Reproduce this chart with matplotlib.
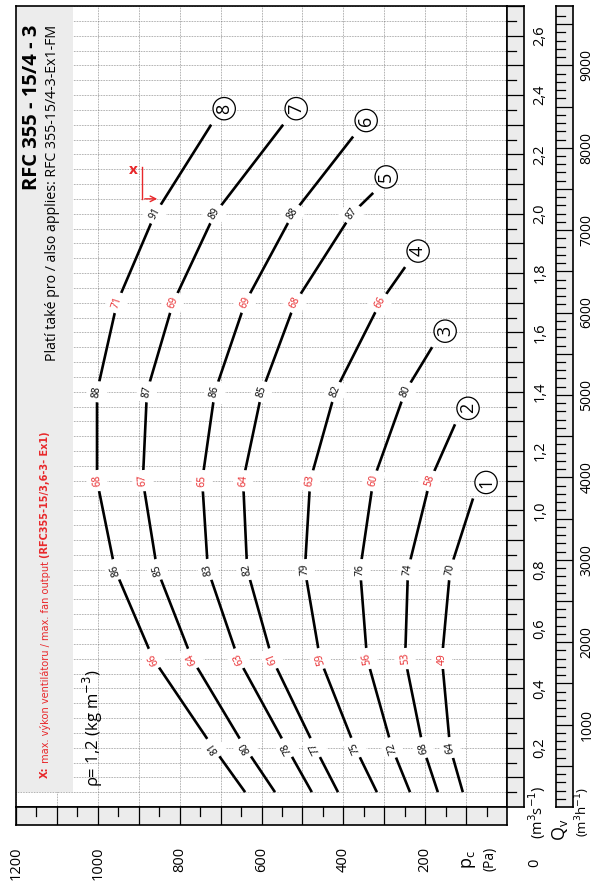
import numpy as np
import matplotlib
matplotlib.use("Agg")
import matplotlib.pyplot as plt
from matplotlib.patches import Rectangle
from matplotlib import transforms, font_manager

plt.rcParams['font.family'] = ['Open Sans', 'DejaVu Sans']

# ---- data (pressure p [Pa] vs flow Q [m3/s]) ----
curve_ids = [1, 2, 3, 4, 5, 6, 7, 8]
curve_q = {
    1: [0.05, 0.2, 0.5, 0.8, 1.04],
    2: [0.05, 0.2, 0.5, 0.8, 1.1, 1.29],
    3: [0.05, 0.2, 0.5, 0.8, 1.1, 1.4, 1.55],
    4: [0.05, 0.2, 0.5, 0.8, 1.1, 1.4, 1.7, 1.82],
    5: [0.05, 0.2, 0.5, 0.8, 1.1, 1.4, 1.7, 2.0, 2.07],
    6: [0.05, 0.2, 0.5, 0.8, 1.1, 1.4, 1.7, 2.0, 2.26],
    7: [0.05, 0.2, 0.5, 0.8, 1.1, 1.4, 1.7, 2.0, 2.30],
    8: [0.05, 0.2, 0.5, 0.8, 1.1, 1.4, 1.7, 2.0, 2.30],
}
curve_p = {
    1: [108, 139, 159, 139, 83],
    2: [169, 205, 249, 242, 188, 127],
    3: [237, 281, 342, 359, 327, 249, 183],
    4: [318, 371, 457, 494, 481, 420, 310, 249],
    5: [413, 469, 574, 635, 645, 599, 518, 379, 327],
    6: [477, 538, 657, 731, 745, 714, 640, 523, 376],
    7: [567, 640, 770, 855, 890, 880, 816, 714, 547],
    8: [640, 718, 865, 958, 1002, 1002, 953, 860, 723],
}
# labels on the inner points of each curve (black = efficiency, red = noise)
curve_labels = {
    1: ['64', '49', '70'],
    2: ['68', '53', '74', '58'],
    3: ['72', '56', '76', '60', '80'],
    4: ['75', '59', '79', '63', '82', '66'],
    5: ['77', '61', '82', '64', '85', '68', '87'],
    6: ['78', '63', '83', '65', '86', '69', '88'],
    7: ['80', '64', '85', '67', '87', '69', '89'],
    8: ['81', '66', '86', '68', '88', '71', '91'],
}
p_ticks = [0, 200, 400, 600, 800, 1000, 1200]
q_ticks = [0.2, 0.4, 0.6, 0.8, 1.0, 1.2, 1.4, 1.6, 1.8, 2.0, 2.2, 2.4, 2.6]
qh_ticks = [1000, 2000, 3000, 4000, 5000, 6000, 7000, 8000, 9000]
x_mark = (914, 2.147)        # "x" max fan output marker
x_corner = (892, 2.05)
x_tip = (848, 2.05)

RED = '#e8282b'
W, H = 593, 890
fig = plt.figure(figsize=(W / 100, H / 100), dpi=100)


def fx(x):
    return x / W


def fy(y):
    return 1 - y / H


X0, X1, Y0, Y1 = 16, 507, 6, 807
ax = fig.add_axes([fx(X0), fy(Y1), (X1 - X0) / W, (Y1 - Y0) / H])
ax.set_xlim(1200, 0)
ax.set_ylim(0, 2.7)
ax.set_xticks(np.arange(0, 1201, 100))
ax.set_yticks(np.arange(0, 2.701, 0.05))
ax.tick_params(length=0, labelbottom=False, labelleft=False)
ax.set_axisbelow(True)
ax.grid(True, color='#6a6a6a', lw=0.5, ls=(0, (1, 1.3)))
for s in ax.spines.values():
    s.set_linewidth(1.2)

# grey title band
ax.add_patch(Rectangle((1060, 0.05), 140, 2.65, fc='#ececec', ec='none', zorder=1))

# strips
axp = fig.add_axes([fx(X0), fy(825), (X1 - X0) / W, 18 / H])
axq = fig.add_axes([fx(X1), fy(Y1), 17 / W, (Y1 - Y0) / H])
axh = fig.add_axes([fx(556), fy(Y1), 17 / W, (Y1 - Y0) / H])
for a in (axp, axq, axh):
    a.set_facecolor('#ececec')
    a.set_xticks([])
    a.set_yticks([])
    for s in a.spines.values():
        s.set_linewidth(1.2)
axp.set_xlim(1200, 0)
axp.set_ylim(0, 1)
for v in range(0, 1201, 50):
    axp.plot([v, v], [0 if v % 100 == 0 else 0.5, 1], color='k', lw=0.9)
axq.set_xlim(0, 1)
axq.set_ylim(0, 2.7)
for v in np.arange(0.05, 2.7, 0.05):
    full = abs(v * 10 - round(v * 10)) < 1e-6
    axq.plot([0, 1 if full else 0.5], [v, v], color='k', lw=0.9)
axh.set_xlim(0, 1)
axh.set_ylim(0, 2.7 * 3600)
for v in range(100, 9700, 100):
    axh.plot([0, 1 if v % 500 == 0 else 0.5], [v, v], color='k', lw=0.9)

# curves
for c in curve_ids:
    q = np.array(curve_q[c])
    p = np.array(curve_p[c])
    ax.plot(p, q, color='k', lw=1.9, zorder=2, solid_capstyle='butt')
    disp = ax.transData.transform(np.column_stack([p, q]))
    for i, lab in enumerate(curve_labels[c]):
        k = i + 1
        d = disp[k + 1] - disp[k - 1]
        ang = np.degrees(np.arctan2(d[1], d[0]))
        ax.text(p[k], q[k], lab, rotation=ang, rotation_mode='anchor',
                ha='center', va='center', fontsize=7.5,
                color='k' if i % 2 == 0 else RED, zorder=3,
                bbox=dict(boxstyle='square,pad=0.45', fc='white', ec='none'))
    ax.annotate(str(c), xy=(p[-1], q[-1]), xytext=(13, 16),
                textcoords='offset pixels', ha='center', va='center',
                rotation=90, fontsize=13, zorder=4,
                bbox=dict(boxstyle='circle,pad=0.12', fc='white', ec='k', lw=0.9))

# max output marker
ax.text(x_mark[0], x_mark[1], 'x', color=RED, fontsize=11, weight='bold',
        ha='center', va='center', zorder=4)
ax.plot([x_corner[0], x_corner[0]], [2.157, x_corner[1]], color=RED, lw=1, zorder=4)
ax.annotate('', xy=x_tip, xytext=x_corner,
            arrowprops=dict(arrowstyle='->', color=RED, lw=1), zorder=4)

# titles
ax.text(1161, 2.636, 'RFC 355 - 15/4 - 3', rotation=90, ha='center', va='top',
        fontsize=14.5, weight='bold', zorder=3)
ax.text(1112, 2.636, 'Platí také pro / also applies: RFC 355-15/4-3-Ex1-FM',
        rotation=90, ha='center', va='top', fontsize=10.2, zorder=3)
ax.text(1012, 0.067, r'ρ= 1,2 (kg m$^{-3}$)', rotation=90, ha='center',
        va='bottom', fontsize=12, zorder=3)

names = set(font_manager.get_font_names())
narrow = ['Liberation Sans Narrow', 'DejaVu Sans'] if 'Liberation Sans Narrow' in names else ['DejaVu Sans']
fig.canvas.draw()
rend = fig.canvas.get_renderer()
yy = ax.transData.transform((1129, 0.098))[1]
xx = ax.transData.transform((1129, 0.098))[0]
for txt, wt in [('X:', 'bold'), (' max. výkon ventilátoru / max. fan output ', 'normal'),
                ('(RFC355-15/3,6-3- Ex1)', 'bold')]:
    t = fig.text(xx / fig.bbox.width, yy / fig.bbox.height, txt, rotation=90,
                 ha='center', va='bottom', color=RED, fontsize=7.8, weight=wt,
                 family=narrow, stretch='condensed', zorder=5)
    yy = t.get_window_extent(rend).y1

# axis labels
tp = transforms.blended_transform_factory(ax.transData, fig.transFigure)
for v in p_ticks[1:]:
    ax.text(v, fy(847), str(v), transform=tp, rotation=90, ha='center',
            va='top', fontsize=10.5, clip_on=False)
fig.text(fx(535), fy(863), '0', rotation=90, ha='center', va='center', fontsize=10.5)
fig.text(fx(469), fy(860), r'$\mathregular{p_c}$', rotation=90, ha='center',
         va='center', fontsize=13)
fig.text(fx(490), fy(859), '(Pa)', rotation=90, ha='center', va='center', fontsize=10)

tq = transforms.blended_transform_factory(fig.transFigure, ax.transData)
for v in q_ticks:
    ax.text(fx(540), v, f'{v:.1f}'.replace('.', ','), transform=tq, rotation=90,
            ha='center', va='center', fontsize=10.5, clip_on=False)
for v in qh_ticks:
    ax.text(fx(587), v / 3600, str(v), transform=tq, rotation=90,
            ha='center', va='center', fontsize=10, clip_on=False)
fig.text(fx(537), fy(812), r'(m$^3$s$^{-1}$)', rotation=90, ha='center',
         va='center', fontsize=10.5)
fig.text(fx(560), fy(830), r'$\mathregular{Q_v}$', rotation=90, ha='center',
         va='center', fontsize=13)
fig.text(fx(583), fy(812), r'(m$^3$h$^{-1}$)', rotation=90, ha='center',
         va='center', fontsize=9.5)

fig.savefig('out.png', dpi=100)
